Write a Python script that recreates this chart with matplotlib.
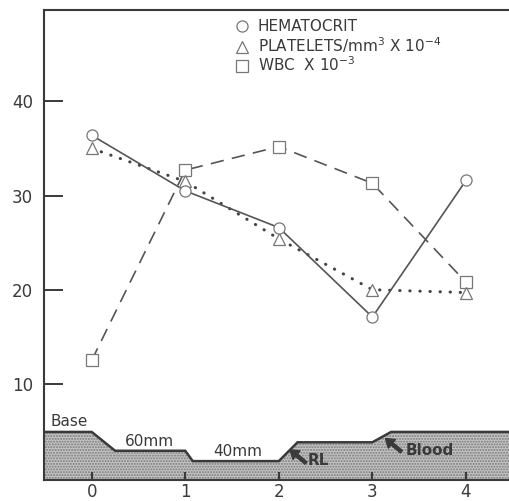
import matplotlib.pyplot as plt
from matplotlib.lines import Line2D

# ---- data ----
days = [0, 1, 2, 3, 4]
hematocrit = [36.4, 30.5, 26.6, 17.1, 31.6]
platelets = [35.0, 31.5, 25.4, 20.0, 19.7]
wbc = [12.5, 32.7, 35.2, 31.3, 20.8]

# flow profile drawn along the bottom (Base -> 60mm -> 40mm -> RL -> Blood)
profile_x = [-0.51, 0, 0.25, 1, 1.08, 2, 2.2, 3, 3.2, 4.46]
profile_y = [4.9, 4.9, 2.9, 2.9, 1.8, 1.8, 3.8, 3.8, 4.9, 4.9]

ink = '#3a3a3a'

fig = plt.figure(figsize=(5.09, 5.01), dpi=100, facecolor='white')
ax = fig.add_axes([0.0864, 0.042, 0.9136, 0.938])

# shaded profile
ax.fill_between(profile_x, -0.2, profile_y, facecolor='#c4c4c4', edgecolor='#7a7a7a',
                hatch='......', linewidth=0)
ax.plot(profile_x, profile_y, color=ink, lw=1.8, solid_joinstyle='miter')

# series
ax.plot(days, wbc, color='#555555', lw=1.2, linestyle=(0, (8, 5)), zorder=3)
ax.plot(days, platelets, color='#444444', lw=2.2, linestyle=(0, (0.1, 3.2)),
        dash_capstyle='round', zorder=3)
ax.plot(days, hematocrit, color='#555555', lw=1.2, zorder=3)

mk = dict(linestyle='none', markerfacecolor='white', markeredgecolor='#777777',
          markeredgewidth=0.9, markersize=8, zorder=4)
ax.plot(days, wbc, marker='s', **mk)
ax.plot(days, platelets, marker='^', **mk)
ax.plot(days, hematocrit, marker='o', **mk)

# profile labels
ax.text(-0.44, 5.2, 'Base', fontsize=11, color=ink, ha='left', va='bottom')
ax.text(0.62, 3.1, '60mm', fontsize=11, color=ink, ha='center', va='bottom')
ax.text(1.56, 2.0, '40mm', fontsize=11, color=ink, ha='center', va='bottom')
arrow = dict(facecolor=ink, edgecolor=ink, width=2.2, headwidth=8, headlength=6, shrink=0)
ax.annotate('', xy=(2.12, 3.0), xytext=(2.29, 1.6), arrowprops=arrow)
ax.text(2.31, 1.9, 'RL', fontsize=11, fontweight='bold', color=ink, ha='left', va='center')
ax.annotate('', xy=(3.14, 4.2), xytext=(3.31, 2.8), arrowprops=arrow)
ax.text(3.35, 2.9, 'Blood', fontsize=11, fontweight='bold', color=ink, ha='left', va='center')

# legend
lk = dict(linestyle='none', markerfacecolor='white', markeredgecolor='#777777',
          markeredgewidth=0.9, markersize=8)
handles = [Line2D([], [], marker='o', **lk),
           Line2D([], [], marker='^', **lk),
           Line2D([], [], marker='s', **lk)]
labels = ['HEMATOCRIT', r'PLATELETS/mm$^{3}$ X 10$^{-4}$', r'WBC  X 10$^{-3}$']
leg = ax.legend(handles, labels, loc='upper left', bbox_to_anchor=(0.41, 0.98),
                frameon=False, borderpad=0, borderaxespad=0, handlelength=1.0,
                handletextpad=0.5, labelspacing=0.05, fontsize=11)
for t in leg.get_texts():
    t.set_color(ink)

# axes styling
ax.set_xlim(-0.51, 4.46)
ax.set_ylim(-0.2, 49.7)
ax.set_xticks(days)
ax.set_yticks([10, 20, 30, 40])
ax.spines['right'].set_visible(False)
for s in ['left', 'top', 'bottom']:
    ax.spines[s].set_color(ink)
    ax.spines[s].set_linewidth(1.5)
ax.tick_params(axis='y', direction='in', length=14, width=1.4, colors=ink,
               labelsize=12, pad=8)
ax.tick_params(axis='x', direction='in', length=6, width=1.6, colors=ink,
               labelsize=12, pad=2)

fig.savefig('out.png', dpi=100)
